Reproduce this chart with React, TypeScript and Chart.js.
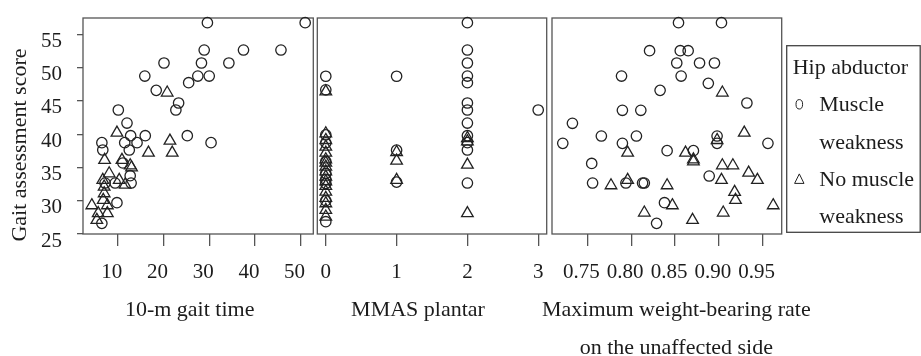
import React, { useEffect, useRef } from 'react';
import { Chart, registerables } from 'chart.js';

Chart.register(...registerables);

const FONT = '"Liberation Serif", "Times New Roman", serif';
const TEXT = '#1c1c1c';
const INK = '#222222';
const LINE = '#555555';

type Pair = [number, number];

// ---------- data ----------
const yTicks = [25, 30, 35, 40, 45, 50, 55];
const yTitle = 'Gait assessment score';
const legendTitle = 'Hip abductor';
const seriesLines = [['Muscle', 'weakness'], ['No muscle', 'weakness']];

const gaitTimeTicks = [10, 20, 30, 40, 50];
const mmasTicks = [0, 1, 2, 3];
const weightTicks = [0.75, 0.8, 0.85, 0.9, 0.95];

const gaitTimeTitle = ['10-m gait time'];
const mmasTitle = ['MMAS plantar'];
const weightTitle = ['Maximum weight-bearing rate', 'on the unaffected side'];

// 10-m gait time vs score
const gaitTimeWeak: Pair[] = [
  [29.6, 56.75], [51.0, 56.75], [28.9, 52.64], [37.5, 52.64], [45.7, 52.64],
  [20.1, 50.69], [28.3, 50.69], [34.3, 50.69], [15.9, 48.73], [27.5, 48.73],
  [30.0, 48.73], [25.5, 47.73], [18.4, 46.58], [23.3, 44.68], [22.7, 43.63],
  [10.1, 43.63], [12.0, 41.67], [12.8, 39.77], [16.0, 39.77], [25.2, 39.77],
  [6.5, 38.72], [30.4, 38.72], [11.5, 38.72], [14.2, 38.72], [6.7, 37.62],
  [12.5, 37.62], [11.1, 35.67], [12.7, 33.76], [12.9, 32.66], [9.4, 32.66],
  [7.2, 32.66], [9.8, 29.7], [6.5, 26.6],
];
const gaitTimeNoWeak: Pair[] = [
  [20.8, 46.23], [9.8, 40.2], [21.4, 39.0], [16.7, 37.2], [21.9, 37.2],
  [7.1, 36.1], [10.9, 36.1], [12.7, 35.3], [13.0, 35.0], [8.1, 34.1],
  [6.7, 33.1], [10.3, 33.1], [11.6, 32.4], [7.0, 32.1], [7.0, 31.1],
  [6.8, 30.1], [4.3, 29.3], [7.7, 29.3], [5.7, 28.1], [7.7, 28.1], [5.4, 27.1],
];

// MMAS plantar vs score
const mmasWeak: Pair[] = [
  [0, 48.7], [0, 46.66], [0, 39.9], [0, 38.7], [0, 35.9], [0, 34.1], [0, 33.2],
  [0, 32.6], [0, 30.0], [0, 26.85],
  [1, 48.7], [1, 37.6], [1, 32.8],
  [2, 56.75], [2, 52.64], [2, 50.69], [2, 48.73], [2, 47.73], [2, 44.68],
  [2, 43.63], [2, 41.67], [2, 39.77], [2, 38.72], [2, 37.62], [2, 32.66],
  [3, 43.63],
];
const mmasNoWeak: Pair[] = [
  [0, 46.4], [0, 40.1], [0, 39.1], [0, 38.1], [0, 37.2], [0, 36.2], [0, 35.7],
  [0, 35.1], [0, 34.4], [0, 33.6], [0, 32.9], [0, 32.2], [0, 31.35], [0, 30.4],
  [0, 29.6], [0, 28.6], [0, 27.6],
  [1, 37.3], [1, 36.0], [1, 33.1],
  [2, 39.4], [2, 38.9], [2, 35.4], [2, 28.1],
];

// Maximum weight-bearing rate vs score
const weightWeak: Pair[] = [
  [0.854, 56.75], [0.903, 56.75], [0.821, 52.54], [0.856, 52.54], [0.865, 52.54],
  [0.852, 50.69], [0.878, 50.69], [0.895, 50.69], [0.789, 48.73], [0.857, 48.73],
  [0.888, 47.63], [0.833, 46.58], [0.932, 44.68], [0.790, 43.58], [0.811, 43.58],
  [0.733, 41.63], [0.766, 39.72], [0.806, 39.72], [0.722, 38.62], [0.790, 38.62],
  [0.956, 38.62], [0.898, 39.72], [0.898, 38.62], [0.841, 37.52], [0.871, 37.52],
  [0.755, 35.6], [0.889, 33.71], [0.756, 32.66], [0.794, 32.66], [0.813, 32.66],
  [0.815, 32.66], [0.838, 29.7], [0.829, 26.6],
];
const weightNoWeak: Pair[] = [
  [0.904, 46.23], [0.929, 40.2], [0.898, 39.1], [0.796, 37.2], [0.862, 37.2],
  [0.871, 36.2], [0.871, 35.9], [0.904, 35.3], [0.916, 35.3], [0.934, 34.2],
  [0.944, 33.1], [0.903, 33.1], [0.796, 33.1], [0.777, 32.3], [0.841, 32.3],
  [0.918, 31.3], [0.919, 30.1], [0.847, 29.3], [0.962, 29.3], [0.815, 28.2],
  [0.905, 28.2], [0.870, 27.1],
];

// ---------- layout ----------
const W = 921;
const H = 356;

interface PanelSpec {
  weak: Pair[];
  noWeak: Pair[];
  xMin: number;
  xMax: number;
  xTicks: number[];
  fmt: (v: number) => string;
  title: string[];
  titleDx: number;
  left: number;
  right: number;
  labelOffset: number;
  showY: boolean;
  legend: boolean;
}

const panels: PanelSpec[] = [
  {
    weak: gaitTimeWeak, noWeak: gaitTimeNoWeak, xMin: 2.37, xMax: 52.78,
    xTicks: gaitTimeTicks, fmt: (v) => String(v), title: gaitTimeTitle, titleDx: -8.5,
    left: 83, right: 313.3, labelOffset: -6, showY: true, legend: false,
  },
  {
    weak: mmasWeak, noWeak: mmasNoWeak, xMin: -0.12, xMax: 3.12,
    xTicks: mmasTicks, fmt: (v) => String(v), title: mmasTitle, titleDx: -14,
    left: 317.3, right: 546.7, labelOffset: 0, showY: false, legend: false,
  },
  {
    weak: weightWeak, noWeak: weightNoWeak, xMin: 0.7097, xMax: 0.9717,
    xTicks: weightTicks, fmt: (v) => v.toFixed(2), title: weightTitle, titleDx: 9.5,
    left: 552, right: 781.7, labelOffset: -6, showY: false, legend: true,
  },
];

const decorPlugin = {
  id: 'panelDecor',
  beforeDatasetsDraw(chart: any) {
    const { ctx, chartArea: a } = chart;
    ctx.save();
    ctx.strokeStyle = LINE;
    ctx.lineWidth = 1.3;
    ctx.strokeRect(a.left, a.top, a.right - a.left, a.bottom - a.top);
    ctx.restore();
  },
  afterDraw(chart: any, _args: any, opts: any) {
    const { ctx, chartArea: a } = chart;
    ctx.save();
    ctx.fillStyle = TEXT;
    ctx.font = `22px ${FONT}`;
    ctx.textAlign = 'center';
    ctx.textBaseline = 'alphabetic';
    const cx = (a.left + a.right) / 2 + opts.titleDx;
    (opts.title as string[]).forEach((line, i) => {
      ctx.fillText(line, cx, 316 + i * 38);
    });
    ctx.restore();

    if (opts.showYTitle) {
      ctx.save();
      ctx.fillStyle = TEXT;
      ctx.font = `22px ${FONT}`;
      ctx.textAlign = 'center';
      ctx.textBaseline = 'alphabetic';
      ctx.translate(26, (a.top + a.bottom) / 2 + 19);
      ctx.rotate(-Math.PI / 2);
      ctx.fillText(yTitle, 0, 0);
      ctx.restore();
    }

    if (opts.legend) {
      const L = { left: 786.7, top: 45.7, right: 920.2, bottom: 232.3 };
      ctx.save();
      ctx.strokeStyle = '#444';
      ctx.lineWidth = 1.3;
      ctx.strokeRect(L.left, L.top, L.right - L.left, L.bottom - L.top);
      ctx.fillStyle = TEXT;
      ctx.font = `22px ${FONT}`;
      ctx.textAlign = 'left';
      ctx.textBaseline = 'alphabetic';
      const step = 37.3;
      const b0 = 74;
      ctx.fillText(legendTitle, 792.7, b0);
      let row = 1;
      seriesLines.forEach((lines, si) => {
        const symY = b0 + row * step - 7;
        ctx.strokeStyle = INK;
        ctx.lineWidth = 1;
        ctx.beginPath();
        if (si === 0) {
          ctx.ellipse(799.3, symY, 3.3, 4.7, 0, 0, Math.PI * 2);
        } else {
          ctx.moveTo(799.3, symY - 5);
          ctx.lineTo(794.6, symY + 4.5);
          ctx.lineTo(804, symY + 4.5);
          ctx.closePath();
        }
        ctx.stroke();
        lines.forEach((t) => {
          ctx.fillText(t, 819.3, b0 + row * step);
          row += 1;
        });
      });
      ctx.restore();
    }
  },
};

function makeConfig(p: PanelSpec): any {
  const tickFont = { family: FONT, size: 21 };
  return {
    type: 'scatter',
    data: {
      datasets: [
        {
          label: seriesLines[0].join(' '),
          data: p.weak.map(([x, y]) => ({ x, y })),
          pointStyle: 'circle',
          pointRadius: 5.2,
          pointBorderWidth: 1.3,
          pointBorderColor: INK,
          pointBackgroundColor: 'rgba(0,0,0,0)',
          borderColor: INK,
          backgroundColor: 'rgba(0,0,0,0)',
          clip: false,
        },
        {
          label: seriesLines[1].join(' '),
          data: p.noWeak.map(([x, y]) => ({ x, y })),
          pointStyle: 'triangle',
          pointRadius: 6.7,
          pointBorderWidth: 1.3,
          pointBorderColor: INK,
          pointBackgroundColor: 'rgba(0,0,0,0)',
          borderColor: INK,
          backgroundColor: 'rgba(0,0,0,0)',
          clip: false,
        },
      ],
    },
    options: {
      responsive: false,
      animation: false,
      events: [],
      layout: {
        padding: { left: p.showY ? 0 : p.left, right: W - p.right, top: 18, bottom: 0 },
      },
      plugins: {
        legend: { display: false },
        tooltip: { enabled: false },
        panelDecor: {
          title: p.title,
          titleDx: p.titleDx,
          showYTitle: p.showY,
          legend: p.legend,
        },
      },
      scales: {
        x: {
          type: 'linear',
          position: 'bottom',
          min: p.xMin,
          max: p.xMax,
          afterBuildTicks: (s: any) => {
            s.ticks = p.xTicks.map((v) => ({ value: v }));
          },
          afterFit: (s: any) => {
            s.height = 122;
            s.paddingLeft = 0;
            s.paddingRight = 0;
            s.paddingTop = 0;
            s.paddingBottom = 0;
          },
          grid: {
            drawOnChartArea: false,
            drawTicks: true,
            tickLength: 12,
            color: LINE,
            lineWidth: 1.3,
          },
          border: { display: false },
          ticks: {
            autoSkip: false,
            maxRotation: 0,
            minRotation: 0,
            padding: 14,
            labelOffset: p.labelOffset,
            font: tickFont,
            color: TEXT,
            callback: (v: any) => p.fmt(Number(v)),
          },
        },
        y: {
          type: 'linear',
          position: 'left',
          display: p.showY,
          min: 25,
          max: 57.45,
          afterBuildTicks: (s: any) => {
            s.ticks = yTicks.map((v) => ({ value: v }));
          },
          afterFit: (s: any) => {
            s.width = p.showY ? p.left : 0;
            s.paddingLeft = 0;
            s.paddingRight = 0;
            s.paddingTop = 0;
            s.paddingBottom = 0;
          },
          grid: {
            drawOnChartArea: false,
            drawTicks: true,
            tickLength: 6,
            color: LINE,
            lineWidth: 1.3,
          },
          border: { display: false },
          ticks: {
            autoSkip: false,
            padding: 15,
            labelOffset: 7,
            font: tickFont,
            color: TEXT,
            callback: (v: any) => String(v),
          },
        },
      },
    },
    plugins: [decorPlugin],
  };
}

export default function App() {
  const r0 = useRef<HTMLCanvasElement | null>(null);
  const r1 = useRef<HTMLCanvasElement | null>(null);
  const r2 = useRef<HTMLCanvasElement | null>(null);

  useEffect(() => {
    const refs = [r0, r1, r2];
    const charts: Chart[] = [];
    refs.forEach((r, i) => {
      if (r.current) charts.push(new Chart(r.current, makeConfig(panels[i])));
    });
    return () => charts.forEach((c) => c.destroy());
  }, []);

  const cStyle: React.CSSProperties = { position: 'absolute', left: 0, top: 0, width: W, height: H };
  return (
    <div style={{ position: 'fixed', left: 0, top: 0, width: W, height: H, background: '#fff', overflow: 'hidden' }}>
      <canvas ref={r0} width={W} height={H} style={cStyle} />
      <canvas ref={r1} width={W} height={H} style={cStyle} />
      <canvas ref={r2} width={W} height={H} style={cStyle} />
    </div>
  );
}
